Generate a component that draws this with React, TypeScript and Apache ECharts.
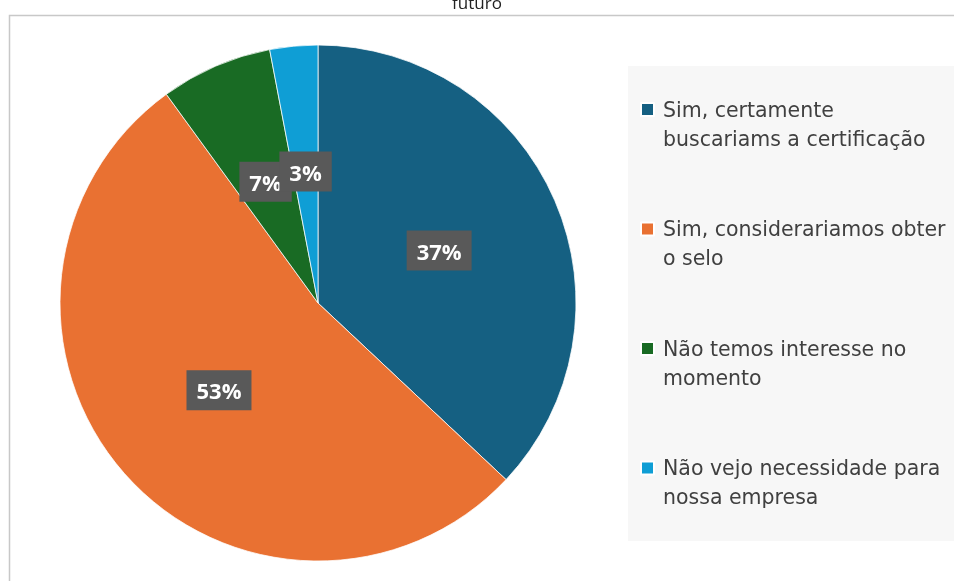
import React, { useEffect, useRef } from "react";
import * as echarts from "echarts";

const categories = [
  "Sim, certamente buscariams a certificação",
  "Sim, considerariamos obter o selo",
  "Não temos interesse no momento",
  "Não vejo necessidade para nossa empresa",
];
const legendLines = [
  "Sim, certamente\nbuscariams a certificação",
  "Sim, considerariamos obter\no selo",
  "Não temos interesse no\nmomento",
  "Não vejo necessidade para\nnossa empresa",
];
const values = [37, 53, 7, 3];
const colors = ["#156082", "#E97132", "#196B24", "#0F9ED5"];
const titleVisible = "futuro";

const FONT = "'Open Sans', 'Noto Sans', sans-serif";
const LEGEND_FONT = "'DejaVu Sans', sans-serif";

export default function App() {
  const ref = useRef<HTMLDivElement>(null);
  useEffect(() => {
    if (!ref.current) return;
    const chart = echarts.init(ref.current, undefined, { renderer: "svg" });
    const wrap: Record<string, string> = {};
    categories.forEach((c, i) => (wrap[c] = "\n" + legendLines[i]));
    chart.setOption({
      animation: false,
      color: colors,
      textStyle: { fontFamily: FONT },
      graphic: [
        {
          type: "rect",
          z: -10,
          shape: { x: 9.5, y: 15.5, width: 1000, height: 700 },
          style: { fill: "none", stroke: "#c8c8c8", lineWidth: 1.5 },
        },
        {
          type: "rect",
          z: -10,
          shape: { x: 628, y: 66, width: 340, height: 475 },
          style: { fill: "#f7f7f7" },
        },
        {
          type: "text",
          x: 477,
          y: 11,
          style: {
            text: titleVisible,
            fill: "#222",
            font: `17px ${FONT}`,
            align: "center",
            verticalAlign: "bottom",
          },
        },
      ],
      legend: {
        orient: "vertical",
        left: 640,
        top: 66,
        padding: 0,
        itemWidth: 13,
        itemHeight: 13,
        itemGap: 32.5,
        icon: "rect",
        data: categories,
        formatter: (name: string) => wrap[name] || name,
        textStyle: {
          color: "#404040",
          fontSize: 20.5,
          fontFamily: LEGEND_FONT,
          lineHeight: 29,
          padding: [0, 0, 0, 4],
        },
      },
      series: [
        {
          type: "pie",
          center: [318, 303],
          radius: 258,
          startAngle: 90,
          clockwise: true,
          avoidLabelOverlap: false,
          labelLayout: { hideOverlap: false },
          itemStyle: { borderColor: "#ffffff", borderWidth: 0.75 },
          label: {
            show: true,
            position: "inside",
            formatter: (p: any) => `${p.value}%`,
            color: "#ffffff",
            fontWeight: "bold",
            fontSize: 22,
            fontFamily: FONT,
            backgroundColor: "#595959",
            padding: [9, 10],
          },
          labelLine: { show: false },
          emphasis: { disabled: true },
          data: categories.map((name, i) => ({ name, value: values[i] })),
        },
      ],
    });
    return () => chart.dispose();
  }, []);
  return (
    <div
      ref={ref}
      style={{ position: "fixed", left: 0, top: 0, width: 954, height: 581 }}
    />
  );
}
